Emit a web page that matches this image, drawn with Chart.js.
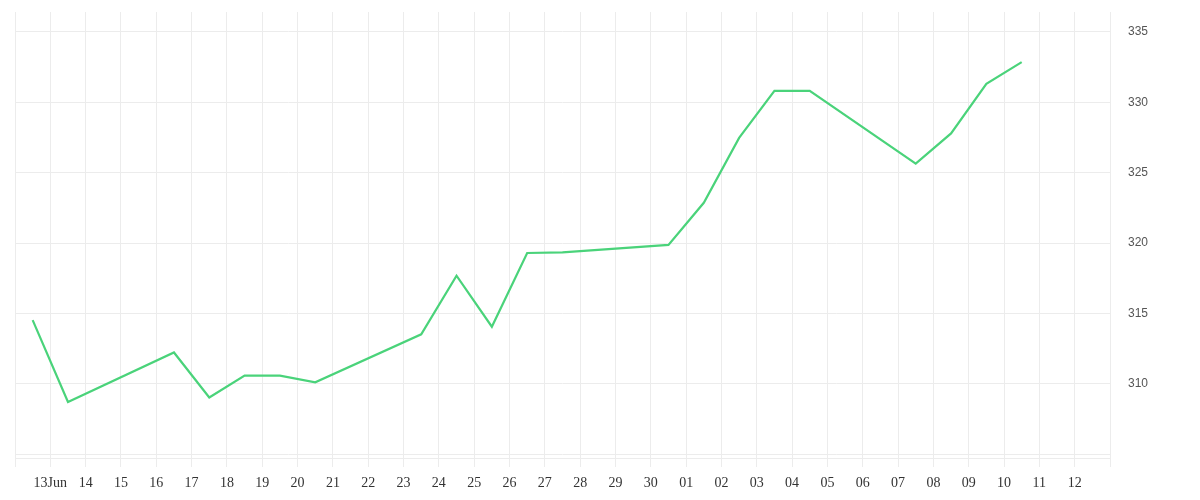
<!DOCTYPE html>
<html>
<head>
<meta charset="utf-8">
<script src="https://cdn.jsdelivr.net/npm/chart.js@4.4.1/dist/chart.umd.min.js"></script>
<style>
  html, body { margin: 0; padding: 0; background: #fff; }
  #wrap { width: 1200px; height: 500px; }
</style>
</head>
<body>
<div id="wrap"><canvas id="grafico"></canvas></div>
<script>
// DATOS:
const fechas = [
    "2025-06-12", "2025-06-13", "2025-06-16", "2025-06-17", "2025-06-18", "2025-06-19", "2025-06-20",
    "2025-06-23", "2025-06-24", "2025-06-25", "2025-06-26", "2025-06-27", "2025-06-30",
    "2025-07-01", "2025-07-02", "2025-07-03", "2025-07-04", "2025-07-07", "2025-07-08", "2025-07-09", "2025-07-10"
];
const cierres = [
    314.52, 308.70, 312.22, 309.02, 310.58, 310.58, 310.10,
    313.51, 317.68, 314.05, 319.29, 319.33, 319.87,
    322.86, 327.47, 330.81, 330.81, 325.64, 327.79, 331.31, 332.86
];
const inicioEje = "2025-06-12";
const finEje = "2025-07-13";
const ticksY = [305, 310, 315, 320, 325, 330, 335];
const meses = ["Jan", "Feb", "Mar", "Apr", "May", "Jun", "Jul", "Aug", "Sep", "Oct", "Nov", "Dec"];

// FUNCIONES:
const DIA = 86400000;

function diaDesdeInicio(fecha) {
    return (Date.parse(fecha) - Date.parse(inicioEje)) / DIA;
}

function etiquetaDia(valor) {
    const total = diaDesdeInicio(finEje);
    if (valor <= 0 || valor >= total) return "";
    const f = new Date(Date.parse(inicioEje) + valor * DIA);
    const dd = String(f.getUTCDate()).padStart(2, "0");
    // la primera etiqueta visible lleva el mes
    return valor === 1 ? dd + meses[f.getUTCMonth()] : dd;
}

const puntos = fechas.map((fecha, i) => ({ x: diaDesdeInicio(fecha) + 0.5, y: cierres[i] }));
const colorGrid = "#ececec";

new Chart(document.getElementById("grafico"), {
    type: "line",
    data: {
        datasets: [{
            data: puntos,
            borderColor: "#4ad37a",
            borderWidth: 2.2,
            pointRadius: 0,
            tension: 0,
            fill: false
        }]
    },
    options: {
        responsive: true,
        maintainAspectRatio: false,
        animation: false,
        layout: { padding: { left: 15, top: 12, right: 0, bottom: 0 } },
        plugins: { legend: { display: false }, tooltip: { enabled: false } },
        scales: {
            x: {
                type: "linear",
                min: 0,
                max: diaDesdeInicio(finEje),
                afterFit: function(axis) {
                    axis.height = 42;
                    axis.paddingLeft = 0;
                    axis.paddingRight = 0;
                },
                afterBuildTicks: function(axis) {
                    const t = [];
                    for (let v = 0; v <= diaDesdeInicio(finEje); v++) t.push({ value: v });
                    axis.ticks = t;
                },
                grid: { color: colorGrid, tickColor: colorGrid, tickLength: 9, drawTicks: true },
                border: { color: colorGrid },
                ticks: {
                    autoSkip: false,
                    maxRotation: 0,
                    padding: 8,
                    color: "#333",
                    font: { family: "Liberation Serif", size: 14 },
                    callback: function(value) { return etiquetaDia(value); }
                }
            },
            y: {
                position: "right",
                min: 304.72,
                max: 336.42,
                afterFit: function(axis) {
                    axis.width = 90;
                    axis.paddingTop = 0;
                    axis.paddingBottom = 0;
                },
                afterBuildTicks: function(axis) {
                    axis.ticks = ticksY.map(v => ({ value: v }));
                },
                grid: { color: colorGrid, drawTicks: false },
                border: { color: colorGrid },
                ticks: {
                    padding: 18,
                    color: "#555",
                    font: { family: "Liberation Sans", size: 12 },
                    callback: function(value) { return value === 305 ? "" : value; }
                }
            }
        }
    }
});
</script>
</body>
</html>
